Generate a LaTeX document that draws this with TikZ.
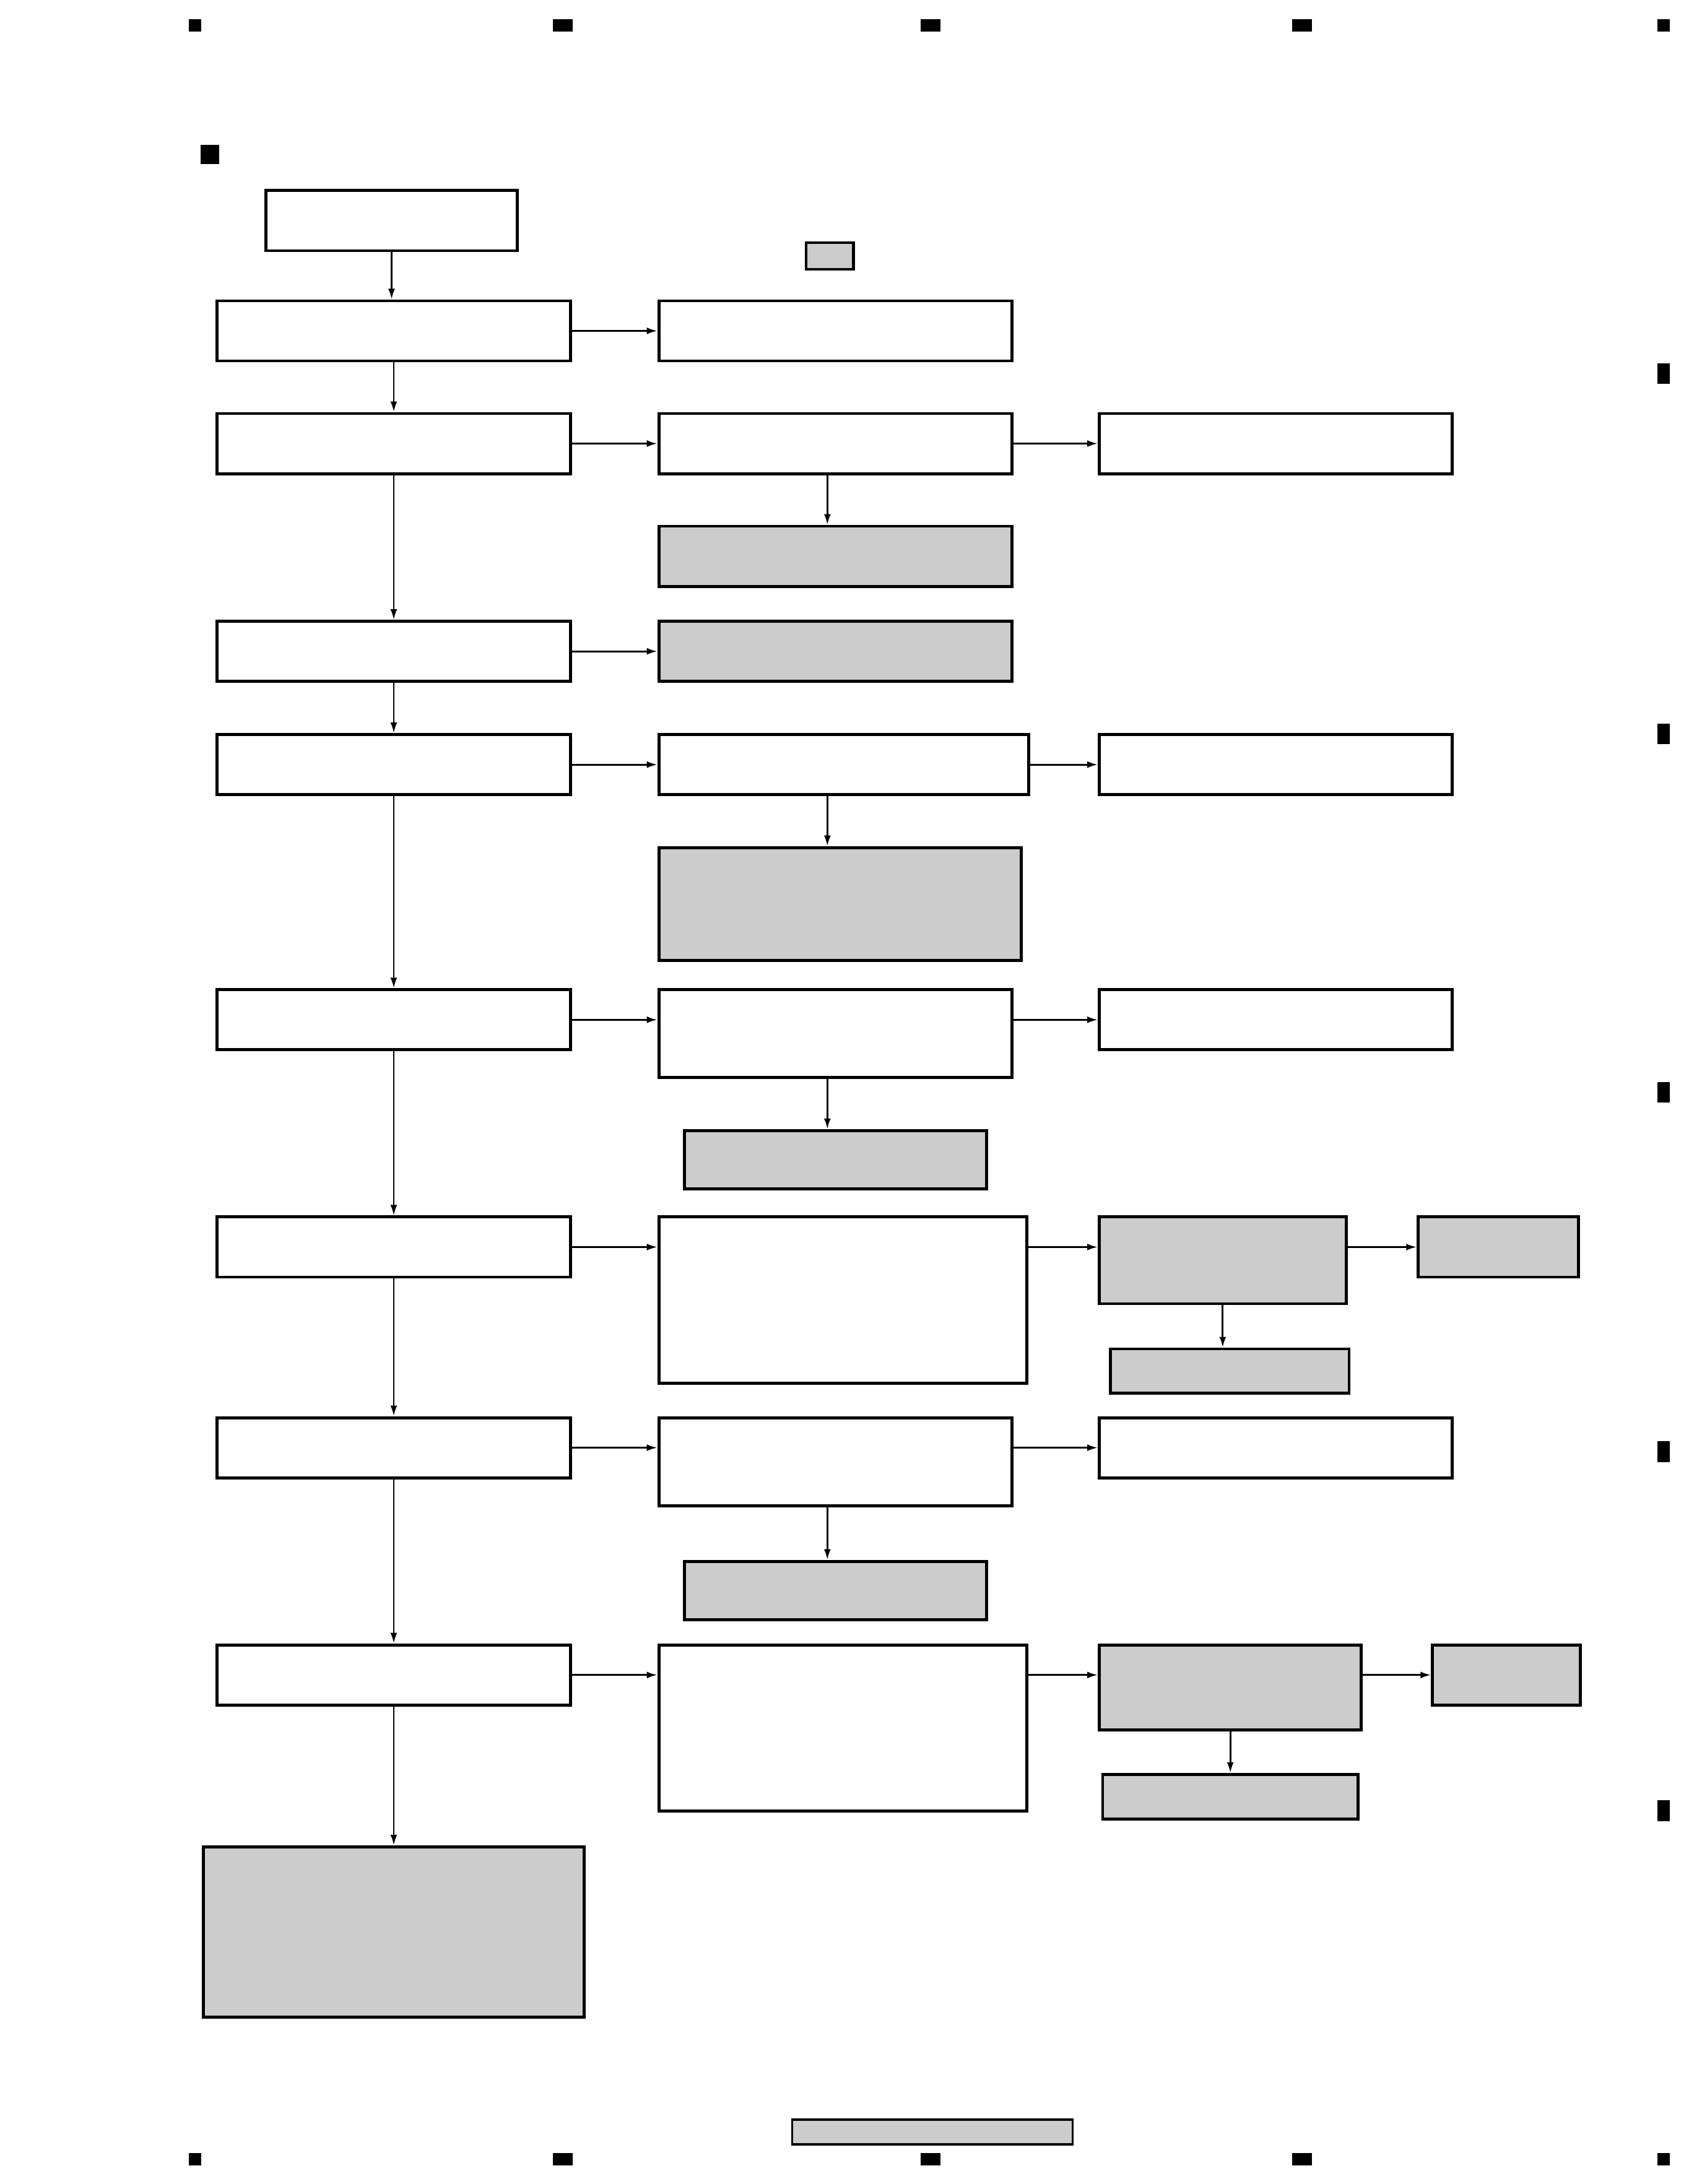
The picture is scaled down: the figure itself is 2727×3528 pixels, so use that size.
\documentclass[tikz,border=0pt]{standalone}
\usepackage{xcolor}
\usepackage{tikz}
\usetikzlibrary{arrows.meta, positioning}
\definecolor{boxgrey}{HTML}{CCCCCC}

\begin{document}
\begin{tikzpicture}[x=0.01cm, y=-0.01cm, >={Latex[length=1.7mm, width=1.1mm]}]
    \tikzstyle{stepbox} = [rectangle, draw=black, line width=1.4pt, fill=white, minimum width=5.7cm, minimum height=0.97cm, inner sep=0pt]
    \tikzstyle{greybox} = [stepbox, fill=boxgrey]
    \tikzstyle{flow} = [->, line width=0.8pt]

    \useasboundingbox (0,0) rectangle (2727,3528);

    % page marks
    \fill (305,31) rectangle (325,51);
    \fill (893,31) rectangle (925,51);
    \fill (1487,31) rectangle (1519,51);
    \fill (2087,31) rectangle (2119,51);
    \fill (2677,31) rectangle (2697,51);
    \fill (305,3478) rectangle (325,3498);
    \fill (893,3478) rectangle (925,3498);
    \fill (1487,3478) rectangle (1519,3498);
    \fill (2087,3478) rectangle (2119,3498);
    \fill (2677,3478) rectangle (2697,3498);
    \fill (2677,587) rectangle (2697,620);
    \fill (2677,1169) rectangle (2697,1202);
    \fill (2677,1748) rectangle (2697,1781);
    \fill (2677,2328) rectangle (2697,2362);
    \fill (2677,2908) rectangle (2697,2942);
    \fill (324,234) rectangle (354,265);

    % left column
    \node [stepbox] (la) at (636,534.5) {};
    \node [stepbox, above=0.76cm of la, xshift=-0.035cm, minimum width=4.05cm] (start) {};
    \node [stepbox, below=0.80cm of la] (lb) {};
    \node [stepbox, below=2.335cm of lb] (lc) {};
    \node [stepbox, below=0.81cm of lc] (ld) {};
    \node [stepbox, below=3.10cm of ld] (le) {};
    \node [stepbox, below=2.65cm of le] (lf) {};
    \node [stepbox, below=2.22cm of lf] (lg) {};
    \node [stepbox, below=2.65cm of lg] (lh) {};
    \node [greybox, below=2.24cm of lh, minimum width=6.145cm, minimum height=2.75cm] (lz) {};

    \node [greybox, minimum width=0.76cm, minimum height=0.43cm] (tag) at (1340,413.5) {};
    \node [greybox, line width=1pt, minimum width=4.53cm, minimum height=0.40cm] (foot) at (1506,3444) {};

    % middle column
    \node [stepbox, right=1.38cm of la] (ma) {};
    \node [stepbox, right=1.38cm of lb] (mb) {};
    \node [greybox, below=0.80cm of mb] (gb) {};
    \node [greybox, right=1.38cm of lc] (mc) {};
    \node [stepbox, anchor=north west, minimum width=5.965cm] (md) at ([xshift=1.38cm]ld.north east) {};
    \node [greybox, anchor=north west, minimum width=5.85cm, minimum height=1.82cm] (gd) at ([yshift=-0.805cm]md.south west) {};
    \node [stepbox, anchor=north west, minimum height=1.415cm] (me) at ([xshift=1.38cm]le.north east) {};
    \node [greybox, below=0.81cm of me, minimum width=4.88cm, minimum height=0.94cm] (ge) {};
    \node [stepbox, anchor=north west, minimum width=5.94cm, minimum height=2.68cm] (mf) at ([xshift=1.38cm]lf.north east) {};
    \node [stepbox, anchor=north west, minimum height=1.42cm] (mg) at ([xshift=1.38cm]lg.north east) {};
    \node [greybox, below=0.85cm of mg, minimum width=4.88cm, minimum height=0.945cm] (gg) {};
    \node [stepbox, anchor=north west, minimum width=5.94cm, minimum height=2.68cm] (mh) at ([xshift=1.38cm]lh.north east) {};

    % right column
    \node [stepbox, right=1.36cm of mb] (rb) {};
    \node [stepbox, right=1.095cm of md] (rd) {};
    \node [stepbox, anchor=north west] (re) at ([xshift=1.36cm]me.north east) {};
    \node [greybox, anchor=north west, minimum width=3.985cm, minimum height=1.40cm] (rf) at ([xshift=1.12cm]mf.north east) {};
    \node [greybox, anchor=north west, minimum width=2.59cm] (rrf) at ([xshift=1.115cm]rf.north east) {};
    \node [greybox, below=0.68cm of rf, xshift=0.115cm, minimum width=3.85cm, minimum height=0.71cm] (ff) {};
    \node [stepbox, anchor=north west] (rg) at ([xshift=1.36cm]mg.north east) {};
    \node [greybox, anchor=north west, minimum width=4.23cm, minimum height=1.37cm] (rh) at ([xshift=1.12cm]mh.north east) {};
    \node [greybox, anchor=north west, minimum width=2.385cm] (rrh) at ([xshift=1.10cm]rh.north east) {};
    \node [greybox, below=0.67cm of rh, minimum width=4.12cm, minimum height=0.72cm] (fh) {};

    % main line down the left
    \draw [flow] (start.south) -- (start.south |- la.north);
    \draw [flow] (la) -- (lb);
    \draw [flow] (lb) -- (lc);
    \draw [flow] (lc) -- (ld);
    \draw [flow] (ld) -- (le);
    \draw [flow] (le) -- (lf);
    \draw [flow] (lf) -- (lg);
    \draw [flow] (lg) -- (lh);
    \draw [flow] (lh) -- (lz);

    % branches to the right
    \draw [flow] (la) -- (ma);
    \draw [flow] (lb) -- (mb);
    \draw [flow] (lc) -- (mc);
    \draw [flow] (ld.east) -- (ld.east -| md.west);
    \draw [flow] (le.east) -- (le.east -| me.west);
    \draw [flow] (lf.east) -- (lf.east -| mf.west);
    \draw [flow] (lg.east) -- (lg.east -| mg.west);
    \draw [flow] (lh.east) -- (lh.east -| mh.west);
    \draw [flow] (mb) -- (rb);
    \draw [flow] (rd.west -| md.east) -- (rd.west);
    \draw [flow] (re.west -| me.east) -- (re.west);
    \draw [flow] (lf.east -| mf.east) -- (lf.east -| rf.west);
    \draw [flow] (rrf.west -| rf.east) -- (rrf.west);
    \draw [flow] (rg.west -| mg.east) -- (rg.west);
    \draw [flow] (lh.east -| mh.east) -- (lh.east -| rh.west);
    \draw [flow] (rrh.west -| rh.east) -- (rrh.west);

    % drops below the middle and right boxes
    \draw [flow] ([xshift=-0.13cm]mb.south) -- ([xshift=-0.13cm]gb.north);
    \draw [flow] ([xshift=-0.26cm]md.south) -- ([xshift=-0.205cm]gd.north);
    \draw [flow] ([xshift=-0.13cm]me.south) -- ([xshift=-0.13cm]ge.north);
    \draw [flow] ([xshift=-0.13cm]mg.south) -- ([xshift=-0.13cm]gg.north);
    \draw [flow] (rf.south) -- (rf.south |- ff.north);
    \draw [flow] (rh.south) -- (rh.south |- fh.north);
\end{tikzpicture}
\end{document}
